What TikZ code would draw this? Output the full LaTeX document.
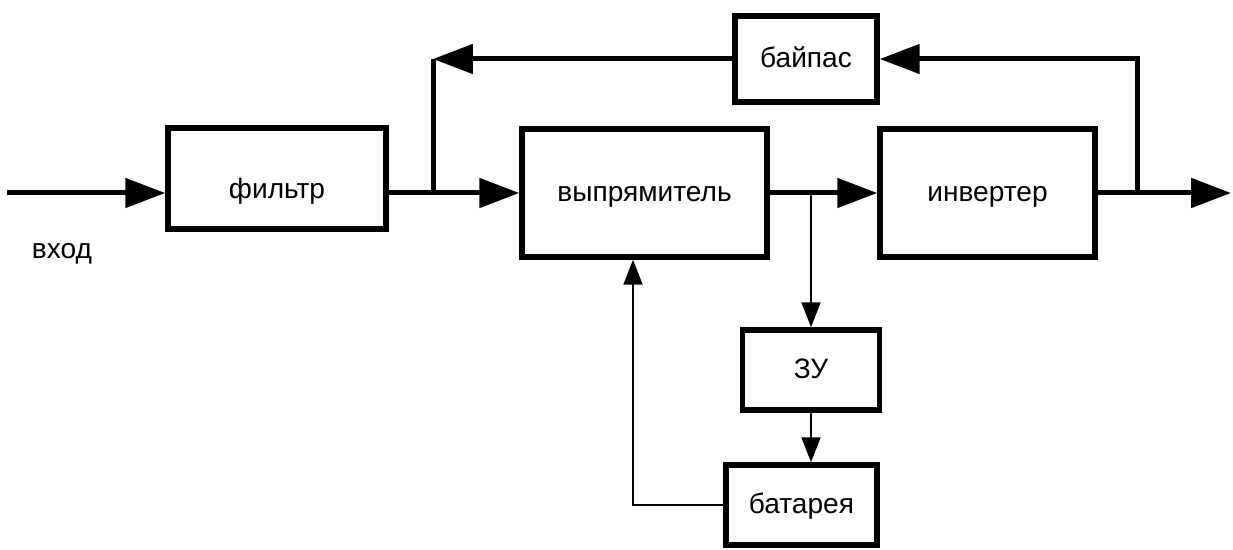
\documentclass[tikz,border=0pt]{standalone}
\usepackage{fontspec}
\setmainfont{Liberation Sans}
\usetikzlibrary{arrows.meta}

\begin{document}
\begin{tikzpicture}[x=0.02cm, y=-0.02cm,
        blk/.style={draw, line width=0.11cm, inner sep=0pt},
        lbl/.style={font=\fontsize{16}{19}\selectfont, text height=1.8ex, text depth=0pt},
        thk/.style={line width=0.1cm},
        thn/.style={line width=0.04cm},
        bigtip/.style={-{Triangle[length=0.8cm, width=0.58cm]}},
        smalltip/.style={-{Triangle[length=0.5cm, width=0.38cm]}}]
        \useasboundingbox (0,0) rectangle (1233,550);

        % blocks
        \node[blk, minimum width=4.36cm, minimum height=2.02cm] (fil) at (277,178.5) {};
        \node[lbl] (filtxt) at (277,190) {фильтр};
        \node[blk, lbl, minimum width=4.9cm, minimum height=2.56cm] (vyp) at (644.5,193) {выпрямитель};
        \node[blk, lbl, minimum width=4.3cm, minimum height=2.56cm] (inv) at (987.5,193) {инвертер};
        \node[blk, lbl, minimum width=2.84cm, minimum height=1.72cm] (byp) at (806,59) {байпас};
        \node[blk, lbl, minimum width=2.74cm, minimum height=1.6cm] (zu) at (811,370) {ЗУ};
        \node[blk, lbl, minimum width=3.02cm, minimum height=1.6cm] (bat) at (801.5,505) {батарея};
        \node[lbl] (vhod) at (62,250) {вход};

        \coordinate (in) at (7,193);
        \coordinate (out) at (1231,193);
        \coordinate (jl) at (433,193);
        \coordinate (jr) at (1137,193);
        \coordinate (js) at (811,193);
        \coordinate (ret) at (633,505);

        % power path
        \draw[thk, bigtip] (in) -- (in -| fil.west);
        \draw[thk, bigtip] (in -| fil.east) -- (vyp.west);
        \draw[thk, bigtip] (vyp.east) -- (inv.west);
        \draw[thk, bigtip] (inv.east) -- (out);

        % bypass
        \draw[thk, bigtip] (jr) |- (byp.east);
        \draw[thk, bigtip] (byp.west) -- (byp.west -| jl);
        \draw[thk] (byp.west -| jl) -- (jl);

        % battery
        \draw[thn, smalltip] (js) -- (zu.north);
        \draw[thn, smalltip] (zu.south) -- (zu.south |- bat.north);
        \draw[thn, smalltip] (bat.west) -- (ret) -- (ret |- vyp.south);

\end{tikzpicture}
\end{document}
